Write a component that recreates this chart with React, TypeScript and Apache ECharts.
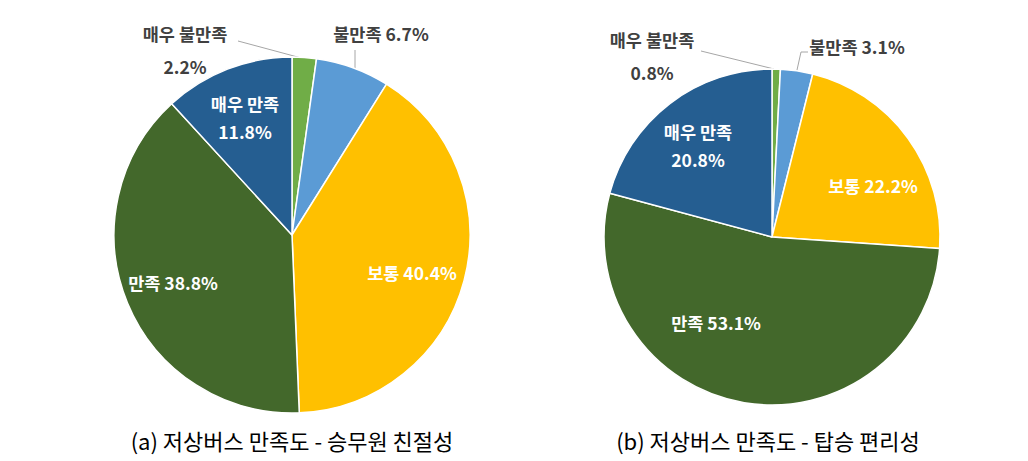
import React, { useEffect, useRef } from "react";
import * as echarts from "echarts";

const categories = ["매우 불만족", "불만족", "보통", "만족", "매우 만족"];
const kindnessValues = [2.2, 6.7, 40.4, 38.8, 11.8];
const boardingValues = [0.8, 3.1, 22.2, 53.1, 20.8];
const sliceColors = ["#70AD47", "#5B9BD5", "#FFC000", "#43682B", "#255E91"];
const captions = ["(a) 저상버스 만족도 - 승무원 친절성", "(b) 저상버스 만족도 - 탑승 편리성"];
const twoLineNames = ["매우 불만족", "매우 만족"];
const outsideNames = ["매우 불만족", "불만족"];

const FONT = "'Noto Sans CJK KR', 'Noto Sans', sans-serif";

// label placement (layout only)
const labelPos = [
  [[185, 50], [381, 33], [412, 272], [173, 282], [245, 117]],
  [[652, 56], [857, 46], [873, 185], [716, 322], [698, 145]],
];
const leaderPts: Record<string, number[][]> = {
  "0-0": [[238, 41], [305, 59]],
  "0-1": [[355, 50], [355, 69]],
  "1-0": [[701, 51], [774, 69]],
  "1-1": [[808, 52], [801, 52], [797, 70]],
};

function buildData(values: number[]) {
  return categories.map((name, i) => {
    const outside = outsideNames.includes(name);
    const twoLine = twoLineNames.includes(name);
    return {
      name,
      value: values[i],
      itemStyle: { color: sliceColors[i] },
      label: {
        position: outside ? "outside" : "inside",
        color: outside ? "#404040" : "#ffffff",
        lineHeight: twoLine ? (outside ? 33 : 28) : 20,
      },
      labelLine: {
        show: outside,
        length: 10,
        length2: 10,
        lineStyle: { color: "#a6a6a6", width: 1 },
      },
    };
  });
}

function makeSeries(values: number[], center: number[], radius: number, si: number) {
  return {
    type: "pie",
    center,
    radius,
    startAngle: 90,
    clockwise: true,
    avoidLabelOverlap: false,
    data: buildData(values),
    itemStyle: { borderColor: "#ffffff", borderWidth: 1.5 },
    label: {
      show: true,
      fontFamily: FONT,
      fontWeight: "bold",
      fontSize: 17.5,
      formatter: (p: any) =>
        twoLineNames.includes(p.name) ? `${p.name}\n${p.value}%` : `${p.name} ${p.value}%`,
    },
    labelLayout: (params: any) => {
      const pos = labelPos[si][params.dataIndex];
      const res: any = { x: pos[0], y: pos[1], align: "center", verticalAlign: "middle" };
      const pts = leaderPts[`${si}-${params.dataIndex}`];
      if (pts) res.labelLinePoints = pts;
      return res;
    },
    emphasis: { disabled: true },
  };
}

export default function App() {
  const ref = useRef<HTMLDivElement>(null);
  useEffect(() => {
    document.body.style.margin = "0";
    if (!ref.current) return;
    const chart = echarts.init(ref.current, undefined, { renderer: "svg" });
    chart.setOption({
      animation: false,
      backgroundColor: "#ffffff",
      series: [
        makeSeries(kindnessValues, [292, 235], 178, 0),
        makeSeries(boardingValues, [772, 237], 168, 1),
      ],
      graphic: [
        {
          type: "text",
          x: 292,
          y: 440,
          style: {
            text: captions[0],
            font: `22px ${FONT}`,
            fill: "#000000",
            textAlign: "center",
            textVerticalAlign: "middle",
          },
        },
        {
          type: "text",
          x: 768,
          y: 440,
          style: {
            text: captions[1],
            font: `22px ${FONT}`,
            fill: "#000000",
            textAlign: "center",
            textVerticalAlign: "middle",
          },
        },
      ],
    });
    return () => chart.dispose();
  }, []);
  return <div ref={ref} style={{ width: 1028, height: 461 }} />;
}
